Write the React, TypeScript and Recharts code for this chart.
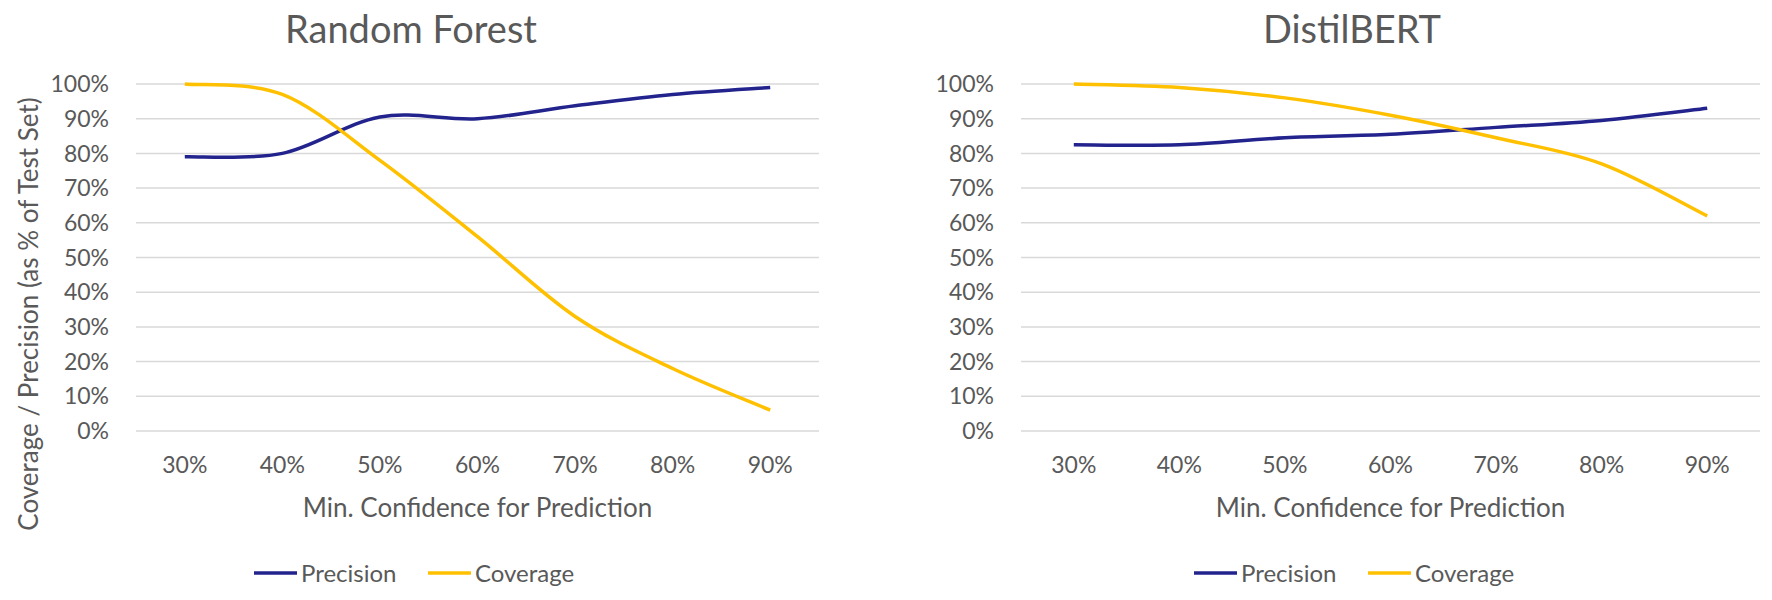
import { LineChart, Line, XAxis, YAxis, CartesianGrid } from "recharts";

// minimum confidence thresholds on the x axis
const categories = ["30%", "40%", "50%", "60%", "70%", "80%", "90%"];

// Random Forest
const rfPrecision = [79, 80, 90.5, 90, 93.7, 97, 99];
const rfCoverage = [100, 97, 78, 56, 33, 18, 6];

// DistilBERT
const bertPrecision = [82.5, 82.5, 84.5, 85.5, 87.5, 89.5, 93];
const bertCoverage = [100, 99, 96, 91, 84.5, 77, 62];

const yTicks = [0, 10, 20, 30, 40, 50, 60, 70, 80, 90, 100];

const series = [
	{ key: "Precision", color: "#23238E" },
	{ key: "Coverage", color: "#FFC000" },
];

const FONT = "Lato, 'Open Sans', sans-serif";
const TEXT = "#595959";
const HEIGHT = 600;
const PLOT_TOP = 84;
const PLOT_BOTTOM = 431;
const X_AXIS_H = 50;

// Catmull-Rom style smoothing, close to Excel's "smoothed line"
function smoothCurve(context: any) {
	let pts: [number, number][] = [];
	return {
		areaStart() {},
		areaEnd() {},
		lineStart() {
			pts = [];
		},
		lineEnd() {
			if (!pts.length) return;
			context.moveTo(pts[0][0], pts[0][1]);
			for (let i = 0; i < pts.length - 1; i++) {
				const p0 = pts[i - 1] || pts[i];
				const p1 = pts[i];
				const p2 = pts[i + 1];
				const p3 = pts[i + 2] || p2;
				context.bezierCurveTo(
					p1[0] + (p2[0] - p0[0]) / 6,
					p1[1] + (p2[1] - p0[1]) / 6,
					p2[0] - (p3[0] - p1[0]) / 6,
					p2[1] - (p3[1] - p1[1]) / 6,
					p2[0],
					p2[1]
				);
			}
		},
		point(x: number, y: number) {
			pts.push([+x, +y]);
		},
	};
}

function buildRows(precision: number[], coverage: number[]) {
	return categories.map((label, i) => ({
		label,
		Precision: precision[i],
		Coverage: coverage[i],
	}));
}

interface PanelProps {
	left: number;
	width: number;
	axisWidth: number;
	plotRight: number;
	rows: { label: string; Precision: number; Coverage: number }[];
	title: string;
	titleX: number;
	legendX: number;
	yTitle?: string;
}

function Panel({
	left,
	width,
	axisWidth,
	plotRight,
	rows,
	title,
	titleX,
	legendX,
	yTitle,
}: PanelProps) {
	const plotWidth = plotRight - left - axisWidth;
	const half = plotWidth / categories.length / 2;
	const plotCenter = axisWidth + plotWidth / 2;
	const tickStyle = { fill: TEXT, fontSize: 23, fontFamily: FONT };

	return (
		<div style={{ position: "absolute", left, top: 0, width, height: HEIGHT }}>
			<LineChart
				width={width}
				height={HEIGHT}
				data={rows}
				margin={{
					top: PLOT_TOP,
					right: left + width - plotRight,
					bottom: HEIGHT - PLOT_BOTTOM - X_AXIS_H,
					left: 0,
				}}
			>
				<CartesianGrid vertical={false} stroke="#D9D9D9" strokeWidth={1.5} />
				<XAxis
					dataKey="label"
					height={X_AXIS_H}
					axisLine={false}
					tickLine={false}
					tickSize={0}
					tickMargin={26}
					interval={0}
					padding={{ left: half, right: half }}
					tick={tickStyle}
				/>
				<YAxis
					width={axisWidth}
					domain={[0, 100]}
					ticks={yTicks}
					tickFormatter={(v) => `${v}%`}
					axisLine={false}
					tickLine={false}
					tickSize={0}
					tickMargin={27}
					tick={tickStyle}
				/>
				{series.map((s) => (
					<Line
						key={s.key}
						dataKey={s.key}
						type={smoothCurve as any}
						stroke={s.color}
						strokeWidth={3.5}
						dot={false}
						activeDot={false}
						isAnimationActive={false}
					/>
				))}
			</LineChart>
			<svg
				width={width}
				height={HEIGHT}
				style={{ position: "absolute", left: 0, top: 0, pointerEvents: "none" }}
				fontFamily={FONT}
				fill={TEXT}
			>
				<text x={titleX - left} y={43} fontSize={38} textAnchor="middle">
					{title}
				</text>
				<text x={plotCenter} y={517} fontSize={26} textAnchor="middle">
					Min. Confidence for Prediction
				</text>
				{yTitle && (
					<text
						x={38}
						y={314}
						fontSize={26}
						textAnchor="middle"
						transform="rotate(-90 38 314)"
					>
						{yTitle}
					</text>
				)}
				{series.map((s, i) => {
					const x = legendX - left + i * 174;
					return (
						<g key={s.key}>
							<line x1={x} x2={x + 43} y1={573} y2={573} stroke={s.color} strokeWidth={3.5} />
							<text x={x + 47} y={582} fontSize={24}>
								{s.key}
							</text>
						</g>
					);
				})}
			</svg>
		</div>
	);
}

export default function App() {
	return (
		<div
			style={{
				position: "absolute",
				left: 0,
				top: 0,
				width: 1772,
				height: HEIGHT,
				background: "#fff",
			}}
		>
			<Panel
				left={0}
				width={860}
				axisWidth={136}
				plotRight={819}
				rows={buildRows(rfPrecision, rfCoverage)}
				title="Random Forest"
				titleX={411}
				legendX={254}
				yTitle="Coverage / Precision (as % of Test Set)"
			/>
			<Panel
				left={880}
				width={892}
				axisWidth={141}
				plotRight={1760}
				rows={buildRows(bertPrecision, bertCoverage)}
				title="DistilBERT"
				titleX={1352}
				legendX={1194}
			/>
		</div>
	);
}
